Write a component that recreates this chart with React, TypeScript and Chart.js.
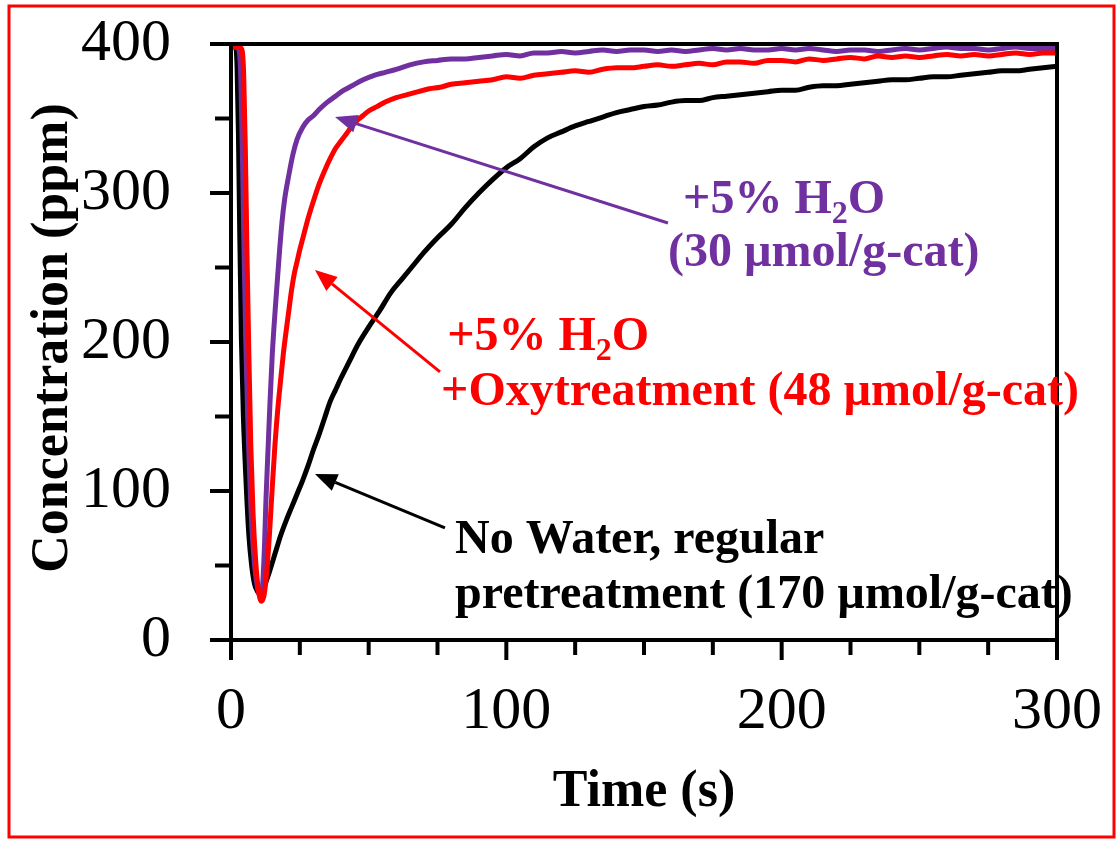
import React, { useEffect, useRef } from 'react';
import { Chart, registerables } from 'chart.js';

Chart.register(...registerables);

const W = 1119;
const H = 842;

// ---- data (time in s, concentration in ppm) ----
const timeRed = [0, 1, 2, 3, 4, 4.6, 5.2, 5.8, 6.5, 7.2, 8, 9, 10, 11, 12, 13, 14, 15, 16, 17, 18, 19, 20, 21, 22, 23, 24, 25, 26, 28, 30, 32, 34, 36, 38, 40, 42, 44, 46, 48, 50, 53, 56, 60, 64, 68, 72, 76, 80, 85, 90, 95, 100, 105, 110, 115, 120, 125, 130, 135, 140, 145, 150, 155, 160, 165, 170, 175, 180, 185, 190, 195, 200, 205, 210, 215, 220, 225, 230, 235, 240, 245, 250, 255, 260, 265, 270, 275, 280, 285, 290, 295, 300];
const concRed = [397, 398, 398, 398, 396, 380, 330, 260, 190, 130, 85, 52, 33, 26, 30, 46, 72, 103, 132, 155, 174, 192, 207, 221, 235, 246, 254, 262, 269, 283, 295, 306, 315, 323, 330, 335, 340, 345, 349, 352, 355, 358, 361, 364, 366, 368, 370, 371, 373, 374, 375, 376, 378, 377, 379, 380, 381, 382, 381, 383, 384, 384, 385, 386, 385, 386, 387, 386, 388, 388, 387, 389, 389, 388, 390, 389, 390, 391, 390, 392, 391, 392, 391, 392, 393, 392, 393, 392, 393, 394, 393, 394, 394];

const timePurple = [0, 2, 3, 3.6, 4.2, 4.8, 5.5, 6.3, 7.2, 8.2, 9.2, 10.2, 11, 11.6, 12.2, 12.7, 13.5, 14.2, 15, 16.3, 17.5, 18.5, 19.5, 21, 22.5, 24, 26, 28, 30, 32, 35, 38, 41, 44, 48, 52, 56, 60, 65, 70, 75, 80, 85, 90, 95, 100, 105, 110, 115, 120, 125, 130, 135, 140, 145, 150, 155, 160, 165, 170, 175, 180, 185, 190, 195, 200, 205, 210, 215, 220, 225, 230, 235, 240, 245, 250, 255, 260, 265, 270, 275, 280, 285, 290, 295, 300];
const concPurple = [398, 398, 395, 375, 320, 255, 190, 135, 90, 58, 40, 31, 30, 40, 65, 94, 130, 161, 192, 228, 258, 280, 296, 312, 326, 336, 344, 349, 352, 356, 361, 365, 369, 372, 376, 379, 381, 383, 386, 388, 389, 390, 390, 391, 392, 393, 392, 394, 394, 395, 394, 395, 396, 395, 396, 396, 395, 396, 395, 396, 397, 396, 397, 396, 396, 397, 396, 397, 396, 395, 396, 396, 395, 396, 397, 396, 397, 398, 397, 397, 396, 397, 398, 397, 397, 397];

const timeBlack = [0, 1.5, 2.2, 2.7, 3.2, 3.8, 4.5, 5.5, 6.5, 7.5, 8.5, 9.5, 10.5, 11.5, 12.5, 14, 16, 18, 20, 22, 24, 26, 28, 30, 32, 34, 36, 38, 40, 43, 46, 50, 54, 58, 62, 66, 70, 75, 80, 85, 90, 95, 100, 105, 110, 115, 120, 125, 130, 135, 140, 145, 150, 155, 160, 165, 170, 175, 180, 185, 190, 195, 200, 205, 210, 215, 220, 225, 230, 235, 240, 245, 250, 255, 260, 265, 270, 275, 280, 285, 290, 295, 300];
const concBlack = [400, 399, 385, 340, 270, 200, 150, 105, 70, 50, 38, 33, 31, 33, 38, 46, 58, 70, 80, 89, 98, 107, 117, 128, 138, 149, 160, 168, 176, 187, 198, 210, 221, 233, 242, 251, 260, 270, 279, 290, 300, 309, 317, 323, 331, 337, 341, 345, 348, 351, 354, 356, 358, 359, 361, 362, 362, 364, 365, 366, 367, 368, 369, 369, 371, 372, 372, 373, 374, 375, 376, 376, 377, 378, 378, 379, 380, 381, 382, 382, 383, 384, 385];

const xTickValues = [0, 100, 200, 300];
const yTickValues = [0, 100, 200, 300, 400];

const RED = '#FF0000';
const PURPLE = '#7030A0';
const BLACK = '#000000';
const SERIF = '"Liberation Serif", "Times New Roman", serif';

// annotation anchors in data units (time, ppm)
type Seg = { t: string; sub?: boolean };
const annotationTexts: { color: string; x: number; y: number; segs: Seg[] }[] = [
  { color: PURPLE, x: 164.2, y: 286.6, segs: [{ t: '+5% H' }, { t: '2', sub: true }, { t: 'O' }] },
  { color: PURPLE, x: 158.7, y: 251, segs: [{ t: '(30 µmol/g-cat)' }] },
  { color: RED, x: 78.5, y: 194.6, segs: [{ t: '+5% H' }, { t: '2', sub: true }, { t: 'O' }] },
  { color: RED, x: 76.3, y: 157.7, segs: [{ t: '+Oxytreatment (48 µmol/g-cat)' }] },
  { color: BLACK, x: 81.4, y: 58.4, segs: [{ t: 'No Water, regular' }] },
  { color: BLACK, x: 81.4, y: 21.5, segs: [{ t: 'pretreatment (170 µmol/g-cat)' }] },
];
const arrows = [
  { color: PURPLE, x1: 158.7, y1: 279.9, x2: 37.8, y2: 351 },
  { color: RED, x1: 75.9, y1: 179.9, x2: 30.5, y2: 248.3 },
  { color: BLACK, x1: 77.7, y1: 75.2, x2: 30.5, y2: 111.4 },
];

const toPoints = (xs: number[], ys: number[]) => xs.map((x, i) => ({ x, y: ys[i] }));

const decorPlugin = {
  id: 'decor',
  beforeDraw(chart: any) {
    const { ctx } = chart;
    ctx.save();
    ctx.fillStyle = '#ffffff';
    ctx.fillRect(0, 0, W, H);
    ctx.restore();
  },
  afterDatasetsDraw(chart: any) {
    const { ctx, chartArea: a, scales } = chart;
    const xs = scales.x;
    const ys = scales.y;
    ctx.save();
    // frame box + ticks
    ctx.strokeStyle = '#000';
    ctx.lineWidth = 4;
    ctx.lineCap = 'butt';
    ctx.beginPath();
    ctx.moveTo(a.left - 21, a.top);
    ctx.lineTo(a.right + 2, a.top);
    ctx.moveTo(a.left - 21, a.bottom);
    ctx.lineTo(a.right + 2, a.bottom);
    ctx.moveTo(a.left, a.top - 2);
    ctx.lineTo(a.left, a.bottom + 20);
    ctx.moveTo(a.right, a.top - 2);
    ctx.lineTo(a.right, a.bottom + 20);
    for (let v = 50; v < 400; v += 50) {
      const py = ys.getPixelForValue(v);
      const len = v % 100 === 0 ? 21 : 16;
      ctx.moveTo(a.left - len, py);
      ctx.lineTo(a.left, py);
    }
    for (let v = 25; v < 300; v += 25) {
      const px = xs.getPixelForValue(v);
      const len = v % 100 === 0 ? 20 : 15;
      ctx.moveTo(px, a.bottom);
      ctx.lineTo(px, a.bottom + len);
    }
    ctx.stroke();

    // arrows
    for (const ar of arrows) {
      const x1 = xs.getPixelForValue(ar.x1);
      const y1 = ys.getPixelForValue(ar.y1);
      const x2 = xs.getPixelForValue(ar.x2);
      const y2 = ys.getPixelForValue(ar.y2);
      const ang = Math.atan2(y2 - y1, x2 - x1);
      const hl = 22;
      const hw = 9;
      const bx = x2 - hl * Math.cos(ang);
      const by = y2 - hl * Math.sin(ang);
      ctx.strokeStyle = ar.color;
      ctx.fillStyle = ar.color;
      ctx.lineWidth = 3;
      ctx.beginPath();
      ctx.moveTo(x1, y1);
      ctx.lineTo(bx, by);
      ctx.stroke();
      ctx.beginPath();
      ctx.moveTo(x2, y2);
      ctx.lineTo(bx + hw * Math.sin(ang), by - hw * Math.cos(ang));
      ctx.lineTo(bx - hw * Math.sin(ang), by + hw * Math.cos(ang));
      ctx.closePath();
      ctx.fill();
    }

    // annotation texts
    ctx.textBaseline = 'alphabetic';
    ctx.textAlign = 'left';
    for (const an of annotationTexts) {
      let px = xs.getPixelForValue(an.x);
      const py = ys.getPixelForValue(an.y);
      ctx.fillStyle = an.color;
      for (const s of an.segs) {
        ctx.font = s.sub ? `bold 32px ${SERIF}` : `bold 48px ${SERIF}`;
        ctx.fillText(s.t, px, py + (s.sub ? 10 : 0));
        px += ctx.measureText(s.t).width;
      }
    }

    // axis titles
    ctx.fillStyle = '#000';
    ctx.font = `bold 52px ${SERIF}`;
    ctx.textAlign = 'center';
    ctx.fillText('Time (s)', (a.left + a.right) / 2, 806);
    ctx.save();
    ctx.translate(67, 338);
    ctx.rotate(-Math.PI / 2);
    ctx.fillText('Concentration (ppm)', 0, 0);
    ctx.restore();

    // outer red frame
    ctx.strokeStyle = RED;
    ctx.lineWidth = 3;
    ctx.strokeRect(9, 6, 1105, 831);
    ctx.restore();
  },
};

const zeroPadding = (s: any) => {
  s.paddingTop = 0;
  s.paddingBottom = 0;
  s.paddingLeft = 0;
  s.paddingRight = 0;
};

export default function App() {
  const ref = useRef<HTMLCanvasElement | null>(null);
  useEffect(() => {
    if (!ref.current) return;
    const chart = new Chart(ref.current, {
      type: 'line',
      data: {
        datasets: [
          { label: 'Red', data: toPoints(timeRed, concRed), borderColor: RED, borderWidth: 5, pointRadius: 0, cubicInterpolationMode: 'monotone', fill: false },
          { label: 'Purple', data: toPoints(timePurple, concPurple), borderColor: PURPLE, borderWidth: 5, pointRadius: 0, cubicInterpolationMode: 'monotone', fill: false },
          { label: 'Black', data: toPoints(timeBlack, concBlack), borderColor: BLACK, borderWidth: 5, pointRadius: 0, cubicInterpolationMode: 'monotone', fill: false },
        ],
      },
      options: {
        animation: false,
        responsive: false,
        devicePixelRatio: 1,
        layout: { padding: { top: 44, right: 62, left: 0, bottom: 0 } },
        plugins: { legend: { display: false }, tooltip: { enabled: false } },
        elements: { line: { borderJoinStyle: 'round', borderCapStyle: 'round' } },
        scales: {
          x: {
            type: 'linear',
            min: 0,
            max: 300,
            grid: { display: false, drawTicks: false },
            border: { display: false },
            afterBuildTicks: (s: any) => { s.ticks = xTickValues.map((v) => ({ value: v })); },
            afterFit: (s: any) => { s.height = H - 640; zeroPadding(s); },
            ticks: { color: '#000', font: { family: SERIF, size: 60 }, padding: 36, maxRotation: 0, autoSkip: false },
          },
          y: {
            type: 'linear',
            min: 0,
            max: 400,
            grid: { display: false, drawTicks: false },
            border: { display: false },
            afterBuildTicks: (s: any) => { s.ticks = yTickValues.map((v) => ({ value: v })); },
            afterFit: (s: any) => { s.width = 231; zeroPadding(s); },
            ticks: { color: '#000', font: { family: SERIF, size: 60 }, padding: 60, autoSkip: false },
          },
        },
      },
      plugins: [decorPlugin],
    } as any);
    return () => chart.destroy();
  }, []);
  return (
    <div style={{ position: 'absolute', left: 0, top: 0, width: W, height: H, background: '#fff' }}>
      <canvas ref={ref} width={W} height={H} style={{ display: 'block' }} />
    </div>
  );
}
